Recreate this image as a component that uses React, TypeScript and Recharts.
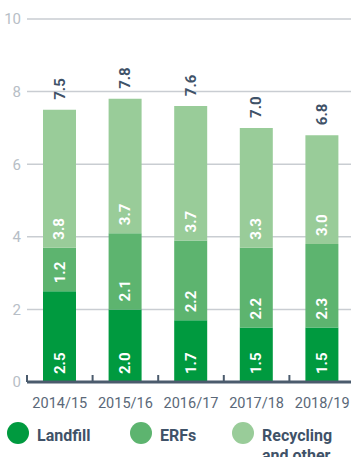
import React from 'react';
import { BarChart, Bar, XAxis, YAxis, CartesianGrid, LabelList } from 'recharts';

// Waste arisings by destination, million tonnes
const years = ['2014/15', '2015/16', '2016/17', '2017/18', '2018/19'];
const landfill = [2.5, 2.0, 1.7, 1.5, 1.5];
const erfs = [1.2, 2.1, 2.2, 2.2, 2.3];
const recycling = [3.8, 3.7, 3.7, 3.3, 3.0];
const totals = [7.5, 7.8, 7.6, 7.0, 6.8];
const yTicks = [0, 2, 4, 6, 8, 10];

const seriesNames = ['Landfill', 'ERFs', 'Recycling and other'];
const seriesKeys = ['landfill', 'erfs', 'recycling'];
const seriesColors = ['#009a3f', '#5db46f', '#99cc99'];

const data = years.map((year, i) => ({
  year,
  landfill: landfill[i],
  erfs: erfs[i],
  recycling: recycling[i],
  total: totals[i],
}));

const FONT = 'Roboto, "Noto Sans", Arial, sans-serif';
const SLATE = '#3f5268';
const AXIS = '#4b5b6d';

// Chart geometry
const CHART_W = 355;
const CHART_H = 412;
const MARGIN_TOP = 19;
const X_AXIS_H = 30;
const PLOT_BOTTOM = CHART_H - X_AXIS_H;

const SegmentLabel = (props: any) => {
  const { x, y, width, height, value } = props;
  const cx = Number(x) + Number(width) / 2;
  const by = Number(y) + Number(height) - 8;
  return (
    <text
      x={cx}
      y={by}
      transform={`rotate(-90 ${cx} ${by})`}
      textAnchor="start"
      dominantBaseline="central"
      fill="#ffffff"
      fontSize={15}
      fontWeight={700}
      fontFamily={FONT}
    >
      {Number(value).toFixed(1)}
    </text>
  );
};

const TotalLabel = (props: any) => {
  const { x, y, width, value } = props;
  const cx = Number(x) + Number(width) / 2;
  const by = Number(y) - 10;
  return (
    <text
      x={cx}
      y={by}
      transform={`rotate(-90 ${cx} ${by})`}
      textAnchor="start"
      dominantBaseline="central"
      fill={SLATE}
      fontSize={15}
      fontWeight={700}
      fontFamily={FONT}
    >
      {Number(value).toFixed(1)}
    </text>
  );
};

// Category label plus a small upward boundary tick at the left edge of each band
const YearTick = (props: any) => {
  const { x, payload } = props;
  const half = payload && payload.offset ? Number(payload.offset) : 0;
  const bx = Number(x) - half;
  return (
    <g>
      <line x1={bx} x2={bx} y1={PLOT_BOTTOM - 7} y2={PLOT_BOTTOM} stroke={AXIS} strokeWidth={2} />
      <text
        x={Number(x)}
        y={PLOT_BOTTOM + 26}
        textAnchor="middle"
        fill="#5a6878"
        fontSize={14.5}
        fontFamily={FONT}
      >
        {payload.value}
      </text>
    </g>
  );
};

const legendLefts = [7, 130, 232];

export default function App() {
  return (
    <div
      style={{
        position: 'absolute',
        left: 0,
        top: 0,
        width: 351,
        height: 457,
        overflow: 'hidden',
        background: '#ffffff',
      }}
    >
      <BarChart
        width={CHART_W}
        height={CHART_H}
        data={data}
        margin={{ top: MARGIN_TOP, right: 0, bottom: 0, left: 0 }}
      >
        <CartesianGrid vertical={false} stroke="#c9cdd2" strokeWidth={1.5} />
        <YAxis
          domain={[0, 10]}
          ticks={yTicks}
          width={27}
          axisLine={false}
          tickLine={false}
          tickSize={0}
          tickMargin={6}
          tick={{ fill: '#b7bec6', fontSize: 15, fontFamily: FONT }}
        />
        <XAxis
          dataKey="year"
          height={X_AXIS_H}
          axisLine={{ stroke: AXIS, strokeWidth: 3 }}
          tickLine={false}
          tickSize={0}
          tickMargin={0}
          interval={0}
          tick={<YearTick />}
        />
        {seriesKeys.map((key, i) => (
          <Bar
            key={key}
            dataKey={key}
            name={seriesNames[i]}
            stackId="waste"
            fill={seriesColors[i]}
            barSize={33}
            isAnimationActive={false}
          >
            <LabelList dataKey={key} content={<SegmentLabel />} />
            {i === seriesKeys.length - 1 ? (
              <LabelList dataKey="total" content={<TotalLabel />} />
            ) : null}
          </Bar>
        ))}
      </BarChart>
      <div style={{ position: 'absolute', left: 0, top: 426, width: 351, height: 40 }}>
        {seriesNames.map((name, i) => (
          <div
            key={name}
            style={{ position: 'absolute', left: legendLefts[i], top: 0 }}
          >
            <div
              style={{
                position: 'absolute',
                left: 0,
                top: -4,
                width: 22,
                height: 22,
                borderRadius: '50%',
                background: seriesColors[i],
              }}
            />
            <div
              style={{
                marginLeft: 30,
                width: i === 2 ? 90 : 80,
                fontFamily: FONT,
                fontWeight: 700,
                fontSize: 16,
                lineHeight: '19.5px',
                color: SLATE,
                whiteSpace: i === 2 ? 'normal' : 'nowrap',
              }}
            >
              {i === 2 ? (
                <>
                  Recycling
                  <br />
                  and other
                </>
              ) : (
                name
              )}
            </div>
          </div>
        ))}
      </div>
    </div>
  );
}
